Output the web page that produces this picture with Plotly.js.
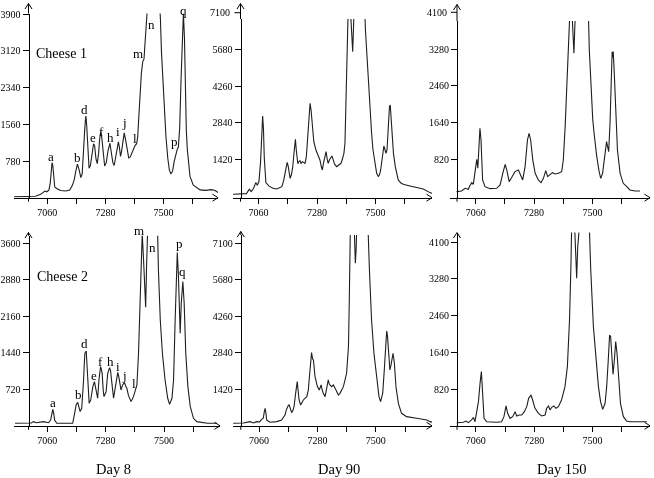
<!DOCTYPE html>
<html>
<head>
<meta charset="utf-8">
<script src="https://cdn.plot.ly/plotly-3.0.1.min.js"></script>
<style>html,body{margin:0;padding:0;background:#fff;}#chart{width:654px;height:478px;}
#chart svg.main-svg{will-change:transform;}</style>
</head>
<body>
<div id="chart"></div>
<script>
// ---------------- DATA ----------------
const xTickVals = [7060, 7170, 7280, 7390, 7500, 7610];
const xTickText = ['7060', '', '7280', '', '7500', ''];
const yTicks1 = [780, 1560, 2340, 3120, 3900];
const yTicks2 = [1420, 2840, 4260, 5680, 7100];
const yTicks3 = [820, 1640, 2460, 3280, 4100];
const yTicks4 = [720, 1440, 2160, 2880, 3600];
const yTicks5 = [1420, 2840, 4260, 5680, 7100];
const yTicks6 = [820, 1640, 2460, 3280, 4100];
const rowLabels = ['Cheese 1', 'Cheese 2'];
const dayLabels = ['Day 8', 'Day 90', 'Day 150'];
const peakLetters = ['a','b','d','e','f','h','i','j','l','m','n','p','q'];

// Cheese 1, Day 8
const mass1 = [6934,6960,6990,7015,7035,7045,7051,7058,7066,7071,7075,7078,7081,7084,7088,7095,7110,7130,7145,7155,7162,7167,7174,7180,7187,7192,7197,7201,7204,7206,7209,7213,7218,7223,7229,7235,7239,7244,7249,7254,7258,7262,7266,7271,7277,7283,7290,7297,7302,7308,7313,7318,7324,7329,7333,7337,7341,7346,7351,7356,7362,7368,7374,7380,7386,7392,7398,7402,7406,7411,7416,7421,7426,7430,7434,7437,7445,7460,7475,7484,7488,7492,7497,7503,7509,7516,7522,7528,7534,7540,7546,7551,7556,7561,7566,7571,7575,7579,7582,7586,7590,7595,7600,7612,7638,7660,7680,7695,7706];
const int1  = [40,40,42,50,90,140,160,145,180,320,600,760,700,420,250,215,170,160,180,280,400,560,730,620,445,520,900,1400,1650,1745,1550,1050,640,700,950,1160,1120,850,740,950,1250,1410,1300,960,690,760,1020,1170,1000,760,700,860,1100,1200,1080,890,1000,1250,1390,1250,1000,860,880,960,1060,1120,1160,1300,1700,2200,2650,2890,2950,3300,3800,4300,5200,5800,5200,4300,3800,3100,2500,1900,1300,850,600,520,580,780,960,1030,1090,1500,2500,3500,3910,3400,2100,1450,1030,700,470,290,185,175,190,170,130];

// Cheese 1, Day 90
const mass2 = [6965,6995,7015,7026,7033,7042,7050,7056,7062,7068,7072,7076,7079,7082,7088,7100,7115,7129,7148,7155,7160,7165,7168,7172,7179,7184,7189,7194,7199,7202,7204,7208,7212,7216,7220,7225,7230,7235,7240,7246,7250,7254,7258,7262,7268,7276,7285,7291,7296,7300,7305,7310,7314,7318,7322,7327,7331,7336,7341,7346,7354,7362,7370,7376,7381,7385,7388,7391,7395,7397,7404,7410,7414,7417,7420,7440,7458,7462,7466,7471,7476,7480,7485,7490,7495,7500,7504,7510,7515,7519,7523,7527,7531,7535,7539,7543,7546,7549,7552,7555,7558,7562,7567,7574,7580,7585,7595,7604,7629,7654,7679,7704,7711];
const int2  = [64,64,90,258,170,300,516,413,560,1300,2400,3100,2600,1500,516,380,300,270,361,600,878,1200,1303,1150,684,820,1136,1700,2194,1800,1523,1250,1330,1368,1250,1330,1300,1250,1523,2400,3200,3589,3300,2700,2100,1781,1587,1394,1150,1006,1300,1600,1716,1450,1265,1400,1480,1549,1400,1230,1136,1190,1265,1450,1650,2039,3200,5009,6500,7200,7500,6200,5590,6500,7500,9000,7500,6400,5654,4700,3718,3000,2427,1800,1394,1050,878,749,830,1006,1400,1781,1936,1800,1650,1800,2600,3200,3459,3524,3100,2300,1650,1136,800,620,500,451,387,335,271,129,100];

// Cheese 1, Day 150
const mass3 = [6988,7007,7020,7032,7040,7045,7051,7057,7062,7064,7068,7071,7074,7076,7080,7083,7086,7095,7114,7139,7152,7162,7167,7171,7177,7186,7196,7208,7221,7230,7237,7246,7252,7255,7261,7267,7275,7284,7296,7306,7315,7324,7331,7340,7349,7359,7371,7384,7390,7397,7403,7409,7414,7422,7426,7430,7433,7436,7460,7484,7488,7492,7497,7501,7506,7511,7516,7525,7531,7538,7546,7553,7557,7561,7566,7571,7574,7576,7578,7581,7586,7594,7604,7616,7629,7641,7660,7679];
const int3  = [98,113,173,150,250,299,262,507,750,820,619,954,1300,1512,1251,800,359,210,165,173,247,507,650,708,582,321,418,545,582,433,359,656,1000,1251,1400,1251,805,507,359,299,396,567,433,470,522,493,507,545,805,1549,2516,3483,4000,4200,3700,3185,3700,4200,5500,4200,3259,2700,2144,1700,1400,1100,879,545,396,507,879,1214,1100,991,1623,2739,3222,3100,3222,2888,1995,1028,507,284,210,135,113,113];

// Cheese 2, Day 8
const mass4 = [6939,7000,7008,7020,7046,7065,7073,7078,7081,7084,7088,7096,7156,7161,7165,7169,7175,7180,7184,7190,7194,7197,7200,7202,7207,7209,7212,7215,7218,7224,7228,7232,7238,7242,7245,7250,7255,7258,7261,7264,7267,7271,7274,7282,7288,7295,7299,7301,7306,7310,7317,7322,7326,7330,7332,7338,7344,7351,7356,7360,7366,7370,7376,7385,7391,7398,7404,7408,7413,7418,7423,7428,7431,7434,7438,7460,7476,7479,7486,7494,7504,7514,7521,7530,7536,7542,7547,7550,7554,7557,7561,7565,7569,7571,7576,7582,7590,7599,7611,7624,7663,7700];
const int4  = [50,55,82,60,82,60,115,260,326,260,115,50,50,181,330,411,464,380,280,345,600,904,1250,1430,1476,1300,1102,700,444,510,650,773,871,780,674,543,904,1100,1167,1120,1036,700,575,674,1036,1148,1080,970,700,543,773,950,1055,960,904,707,806,852,780,740,600,543,477,575,707,806,1430,2088,3271,3800,3271,2482,2338,3074,3800,5000,3800,3074,2088,1430,904,543,424,543,904,2088,3337,3416,3009,2400,1825,2417,2811,2844,2417,1430,773,378,148,82,50,50];

// Cheese 2, Day 90
const mass5 = [6963,7001,7026,7040,7051,7062,7070,7076,7080,7083,7086,7089,7101,7127,7145,7158,7163,7167,7171,7174,7179,7183,7188,7192,7198,7202,7204,7207,7211,7217,7227,7240,7246,7249,7252,7256,7258,7262,7265,7271,7280,7287,7291,7294,7298,7302,7309,7315,7319,7321,7324,7327,7334,7340,7350,7359,7365,7378,7390,7397,7400,7404,7419,7421,7423,7426,7428,7450,7471,7476,7484,7493,7503,7512,7518,7526,7532,7537,7541,7544,7547,7553,7557,7560,7565,7568,7570,7576,7585,7597,7616,7654,7692,7704,7712];
const int5  = [97,110,162,110,162,150,250,292,550,681,500,227,136,162,227,421,620,746,810,810,600,512,600,746,1264,1600,1718,1400,1005,810,1005,1135,1394,1800,2172,2750,2847,2600,2561,1913,1524,1394,1500,1588,1400,1264,1135,1459,1700,1783,1650,1588,1524,1588,1394,1200,1264,1524,2043,3080,4766,7600,7600,6800,6322,6900,7600,9000,7600,6063,4117,2821,1783,1135,940,1264,2172,3080,3690,3500,3080,2172,2350,2561,2821,2600,2431,1524,875,486,357,292,227,162,140];

// Cheese 2, Day 150
const mass6 = [6988,7013,7023,7032,7044,7051,7057,7064,7070,7076,7081,7084,7086,7091,7101,7139,7157,7166,7174,7180,7189,7199,7208,7214,7224,7233,7243,7252,7259,7268,7274,7283,7296,7308,7321,7327,7334,7340,7346,7354,7362,7371,7383,7396,7405,7413,7418,7421,7432,7436,7440,7444,7447,7465,7488,7493,7503,7512,7522,7530,7538,7547,7553,7559,7564,7568,7572,7577,7582,7587,7592,7598,7605,7616,7628,7641,7704];
const int6  = [67,75,104,67,127,186,89,300,537,947,1208,900,723,164,89,75,89,201,441,276,164,201,313,216,239,239,313,425,611,686,574,388,276,216,239,388,440,350,410,440,388,425,574,872,1319,2363,3481,4400,4500,4000,3295,4000,4400,5500,4400,3481,2214,1469,872,537,365,500,872,1469,2028,1990,1469,1148,1469,1879,1618,1021,500,201,104,89,89];

// ---------------- LAYOUT ----------------
const W = 654, H = 478;
const PX = x => x / W;
const PY = y => 1 - y / H;
const FONT = 'Liberation Serif, Times New Roman, serif';

const masses = [mass1, mass2, mass3, mass4, mass5, mass6];
const ints = [int1, int2, int3, int4, int5, int6];
const yTicks = [yTicks1, yTicks2, yTicks3, yTicks4, yTicks5, yTicks6];

// per-panel geometry in pixels
const geo = [
  {L:14,  R:218, yx:28.5, bot:197.7, top:13.5, tip:3.5,  x0:47.3,  dx:29.07, ya:14.0,  yb:161.7, va:3900, vb:780},
  {L:233, R:432, yx:240.5,bot:197.7, top:19.0, tip:3.5,  x0:258.4, dx:29.3,  ya:12.7,  yb:159.3, va:7100, vb:1420},
  {L:449.5,R:650,yx:457,  bot:197.7, top:21.0, tip:4.5,  x0:475.7, dx:29.2,  ya:12.3,  yb:159.3, va:4100, vb:820},
  {L:14,  R:220, yx:28.5, bot:425.8, top:235.7,tip:232.5,x0:47.2,  dx:29.2,  ya:243.3, yb:389.3, va:3600, vb:720},
  {L:233, R:432, yx:240.8,bot:425.8, top:235.0,tip:231.5,x0:259.0, dx:29.2,  ya:243.3, yb:389.3, va:7100, vb:1420},
  {L:449.5,R:650,yx:457,  bot:425.8, top:232.5,tip:232.5,x0:475.8, dx:29.2,  ya:242.3, yb:389.0, va:4100, vb:820}
];

const traces = [];
const layout = {
  width: W, height: H,
  margin: {l:0, r:0, t:0, b:0, pad:0},
  paper_bgcolor: '#fff', plot_bgcolor: 'rgba(0,0,0,0)',
  showlegend: false,
  font: {family: FONT, size: 10, color: '#000'},
  annotations: [], shapes: []
};
const seg = (x0, y0, x1, y1) => ({type:'line', xref:'paper', yref:'paper',
  x0: PX(x0), y0: PY(y0), x1: PX(x1), y1: PY(y1), line:{color:'#000', width:1}});

geo.forEach((g, i) => {
  const sfx = i === 0 ? '' : String(i + 1);
  const upx = 110 / g.dx;
  const xr = [7060 + (g.L - g.x0) * upx, 7060 + (g.R - g.x0) * upx];
  const vpx = (g.va - g.vb) / (g.yb - g.ya);
  const yr = [g.va - (g.bot - g.ya) * vpx, g.va + (g.ya - g.top) * vpx];

  traces.push({
    x: masses[i], y: ints[i], type: 'scatter', mode: 'lines',
    xaxis: 'x' + sfx, yaxis: 'y' + sfx,
    line: {color: '#1e1e1e', width: 1.1}, hoverinfo: 'skip'
  });

  layout['xaxis' + sfx] = {
    domain: [PX(g.L), PX(g.R)], range: xr, anchor: 'y' + sfx,
    showline: true, linecolor: '#000', linewidth: 1,
    showgrid: false, zeroline: false,
    ticks: 'outside', ticklen: 5, tickwidth: 1, tickcolor: '#000',
    tickmode: 'array', tickvals: xTickVals, ticktext: xTickText,
    tickfont: {family: FONT, size: 10, color: '#000'}, fixedrange: true
  };
  layout['yaxis' + sfx] = {
    domain: [PY(g.bot), PY(g.top)], range: yr, anchor: 'free', position: PX(g.yx),
    showline: true, linecolor: '#000', linewidth: 1,
    showgrid: false, zeroline: false,
    ticks: 'outside', ticklen: 6, tickwidth: 1, tickcolor: '#000',
    tickmode: 'array', tickvals: yTicks[i], ticktext: yTicks[i].map(String),
    tickfont: {family: FONT, size: 10, color: '#000'}, fixedrange: true
  };
  // ticks lying above the clipped plot area, drawn on the y-axis extension
  yTicks[i].filter(v => v > yr[1]).forEach(v => {
    const ypx = g.ya + (g.va - v) / vpx;
    layout.shapes.push(seg(g.yx - 6, ypx, g.yx, ypx));
    layout.annotations.push({xref:'paper', yref:'paper', x: PX(g.yx - 8), y: PY(ypx), xanchor:'right', yanchor:'middle',
      showarrow:false, text: String(v), font:{family: FONT, size: 10, color:'#000'}});
  });
  // y-axis extension above the clip, small overshoot below the x axis, and open arrowheads
  layout.shapes.push(seg(g.yx, g.top, g.yx, g.tip));
  layout.shapes.push(seg(g.yx, g.bot, g.yx, g.bot + 4));
  layout.shapes.push(seg(g.yx - 3.5, g.tip + 5.5, g.yx, g.tip));
  layout.shapes.push(seg(g.yx + 3.5, g.tip + 5.5, g.yx, g.tip));
  layout.shapes.push(seg(g.R - 5.5, g.bot - 3.5, g.R, g.bot));
  layout.shapes.push(seg(g.R - 5.5, g.bot + 3.5, g.R, g.bot));
});

// text labels (pixel positions)
const labelPos1 = [[51,156],[77,157],[85,109],[93,137],[101,132],[110,137],[118,132],[124,123],[135,138],[138,53],[151,24],[174,142],[183,11]];
const labelPos2 = [[53,402],[78,394],[85,343],[94,375],[100,361],[110,361],[118,366],[124,375],[134,383],[139,230],[152,247],[179,243],[182,271]];
[labelPos1, labelPos2].forEach(pos => {
  pos.forEach((p, k) => layout.annotations.push({xref:'paper', yref:'paper', x: PX(p[0]), y: PY(p[1]),
    xanchor:'center', yanchor:'middle', showarrow:false, text: peakLetters[k],
    font:{family: FONT, size: 13, color:'#000'}}));
});
layout.annotations.push({xref:'paper', yref:'paper', x: PX(61), y: PY(53), xanchor:'center', yanchor:'middle',
  showarrow:false, text: rowLabels[0], font:{family: FONT, size: 14, color:'#000'}});
layout.annotations.push({xref:'paper', yref:'paper', x: PX(62), y: PY(276), xanchor:'center', yanchor:'middle',
  showarrow:false, text: rowLabels[1], font:{family: FONT, size: 14, color:'#000'}});
[113, 339, 562].forEach((cx, k) => layout.annotations.push({xref:'paper', yref:'paper', x: PX(cx), y: PY(469),
  xanchor:'center', yanchor:'middle', showarrow:false, text: dayLabels[k], font:{family: FONT, size: 14.5, color:'#000'}}));

Plotly.newPlot('chart', traces, layout, {staticPlot: true, displayModeBar: false});
</script>
</body>
</html>
